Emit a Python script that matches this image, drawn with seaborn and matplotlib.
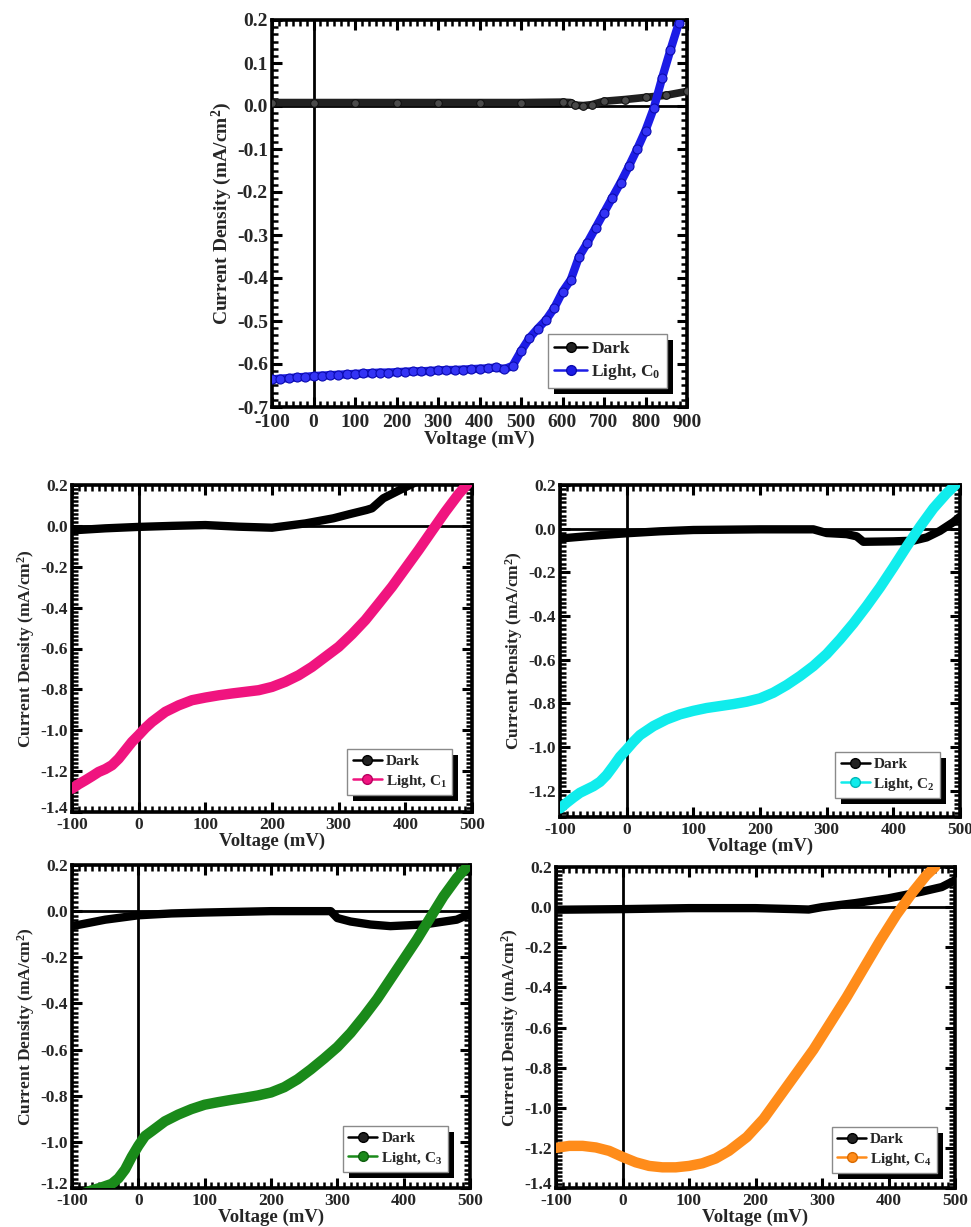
import matplotlib
matplotlib.use("Agg")
import matplotlib.pyplot as plt
import seaborn as sns
from matplotlib.lines import Line2D
from matplotlib.patches import Rectangle
from matplotlib.transforms import Affine2D
from matplotlib.ticker import MultipleLocator, AutoMinorLocator, FormatStrFormatter

sns.set_theme(style="ticks")
plt.rcParams['font.family'] = ['Liberation Serif', 'DejaVu Serif']
plt.rcParams['font.weight'] = 'bold'
plt.rcParams['axes.labelweight'] = 'bold'
plt.rcParams['mathtext.fontset'] = 'custom'
plt.rcParams['mathtext.rm'] = 'Liberation Serif:bold'
plt.rcParams['mathtext.bf'] = 'Liberation Serif:bold'
plt.rcParams['mathtext.it'] = 'Liberation Serif:bold'
plt.rcParams['axes.unicode_minus'] = False

# ---------------- data: J-V curves (voltage in mV, current density in mA/cm^2)
# C0 (top panel)
c0_dark_v = [-100, 0, 100, 200, 300, 400, 500, 600, 620, 630, 650, 670, 700, 750, 800, 850, 900]
c0_dark_j = [0.008, 0.008, 0.008, 0.008, 0.008, 0.008, 0.008, 0.009, 0.008, 0.002, 0.001, 0.003,
             0.011, 0.015, 0.020, 0.025, 0.034]
c0_light_v = [-100, -80, -60, -40, -20, 0, 20, 40, 60, 80, 100, 120, 140, 160, 180, 200, 220, 240,
              260, 280, 300, 320, 340, 360, 380, 400, 420, 440, 460, 480, 500, 520, 540, 560, 580,
              600, 620, 640, 660, 680, 700, 720, 740, 760, 780, 800, 820, 840, 860, 880]
c0_light_j = [-0.636, -0.634, -0.633, -0.631, -0.630, -0.628, -0.627, -0.626, -0.625, -0.624,
              -0.623, -0.622, -0.621, -0.620, -0.620, -0.619, -0.618, -0.617, -0.617, -0.616,
              -0.615, -0.614, -0.614, -0.613, -0.612, -0.611, -0.610, -0.608, -0.612, -0.604,
              -0.570, -0.540, -0.518, -0.498, -0.470, -0.432, -0.404, -0.350, -0.318, -0.283,
              -0.248, -0.213, -0.178, -0.140, -0.100, -0.057, -0.005, 0.065, 0.130, 0.192]

# C1
c1_dark_v = [-100, -50, 0, 50, 100, 150, 200, 250, 292, 317, 342, 350, 367, 392, 412, 430]
c1_dark_j = [-0.022, -0.012, -0.005, 0.0, 0.004, -0.004, -0.009, 0.012, 0.037, 0.058, 0.078,
             0.086, 0.135, 0.176, 0.208, 0.24]
c1_light_v = [-100, -90, -80, -70, -60, -50, -40, -30, -20, -10, 0, 10, 20, 40, 60, 80, 100,
              120, 140, 160, 180, 200, 220, 240, 260, 280, 300, 320, 340, 360, 380, 400, 420,
              440, 460, 480, 500]
c1_light_j = [-1.286, -1.264, -1.245, -1.225, -1.204, -1.190, -1.171, -1.139, -1.098, -1.057,
              -1.024, -0.989, -0.959, -0.910, -0.878, -0.853, -0.840, -0.829, -0.820, -0.812,
              -0.804, -0.788, -0.763, -0.731, -0.690, -0.641, -0.592, -0.530, -0.461, -0.380,
              -0.298, -0.208, -0.118, -0.024, 0.069, 0.156, 0.230]

# C2
c2_dark_v = [-100, -50, 0, 50, 100, 200, 280, 300, 330, 345, 355, 400, 430, 450, 470, 490, 500]
c2_dark_j = [-0.045, -0.032, -0.021, -0.012, -0.006, -0.003, -0.003, -0.020, -0.025, -0.035,
             -0.060, -0.058, -0.055, -0.040, -0.010, 0.030, 0.055]
c2_light_v = [-100, -90, -80, -70, -60, -50, -40, -30, -20, -10, 0, 10, 20, 40, 60, 80, 100,
              120, 140, 160, 180, 200, 220, 240, 260, 280, 300, 320, 340, 360, 380, 400, 420,
              440, 460, 480, 493]
c2_light_j = [-1.281, -1.255, -1.231, -1.209, -1.194, -1.179, -1.159, -1.128, -1.087, -1.044,
              -1.011, -0.976, -0.945, -0.904, -0.873, -0.850, -0.834, -0.821, -0.812, -0.803,
              -0.792, -0.777, -0.751, -0.716, -0.675, -0.629, -0.574, -0.507, -0.434, -0.354,
              -0.269, -0.177, -0.082, 0.009, 0.093, 0.162, 0.200]

# C3
c3_dark_v = [-100, -50, 0, 50, 100, 200, 290, 300, 320, 350, 380, 430, 480, 500]
c3_dark_j = [-0.065, -0.037, -0.018, -0.010, -0.006, 0.0, 0.0, -0.030, -0.045, -0.058, -0.065,
             -0.058, -0.037, -0.012]
c3_light_v = [-85, -70, -55, -40, -30, -20, -10, 0, 10, 20, 40, 60, 80, 100, 120, 140, 160,
              180, 200, 220, 240, 260, 280, 300, 320, 340, 360, 380, 400, 420, 440, 460, 480,
              498]
c3_light_j = [-1.225, -1.210, -1.197, -1.182, -1.158, -1.120, -1.065, -1.017, -0.975, -0.954,
              -0.911, -0.882, -0.858, -0.839, -0.828, -0.818, -0.809, -0.799, -0.786, -0.763,
              -0.729, -0.686, -0.639, -0.589, -0.528, -0.457, -0.381, -0.295, -0.209, -0.123,
              -0.029, 0.064, 0.143, 0.200]

# C4
c4_dark_v = [-100, 0, 100, 200, 260, 280, 300, 350, 400, 450, 480, 500]
c4_dark_j = [-0.013, -0.010, -0.005, -0.005, -0.010, -0.012, 0.0, 0.020, 0.044, 0.077, 0.10,
             0.134]
c4_light_v = [-100, -80, -60, -40, -20, 0, 20, 40, 60, 80, 100, 120, 140, 160, 187, 212, 237,
              262, 287, 312, 337, 362, 387, 412, 437, 457, 470]
c4_light_j = [-1.200, -1.190, -1.190, -1.198, -1.215, -1.245, -1.272, -1.290, -1.297, -1.297,
              -1.290, -1.277, -1.253, -1.215, -1.146, -1.056, -0.941, -0.826, -0.711, -0.580,
              -0.449, -0.309, -0.169, -0.038, 0.077, 0.159, 0.200]

y_label = "Current Density (mA/cm$^{2}$)"
x_label = "Voltage (mV)"

W, H = 971, 1227
fig = plt.figure(figsize=(W / 100, H / 100), dpi=100)
fig.patch.set_facecolor("white")


def make_axes(x0, y0, x1, y1):
    """Axes from pixel box (left, top, right, bottom)."""
    return fig.add_axes([x0 / W, 1 - y1 / H, (x1 - x0) / W, (y1 - y0) / H])


def style(ax, xlim, ylim, xmaj, xmin_n, ymin_n, tick_fs, xlabel_fs, ylabel_fs, yticks,
          labelpad_x, xpad):
    ax.set_facecolor("white")
    ax.set_xlim(*xlim)
    ax.set_ylim(*ylim)
    ax.xaxis.set_major_locator(MultipleLocator(xmaj))
    ax.set_yticks(yticks)
    ax.xaxis.set_minor_locator(AutoMinorLocator(xmin_n))
    ax.yaxis.set_minor_locator(AutoMinorLocator(ymin_n))
    ax.yaxis.set_major_formatter(FormatStrFormatter("%.1f"))
    ax.tick_params(which="both", direction="in", top=True, right=True, color="black",
                   labelsize=tick_fs)
    ax.tick_params(which="major", length=7, width=2.2)
    ax.tick_params(axis="x", which="major", pad=xpad)
    ax.tick_params(axis="y", which="major", pad=3)
    ax.tick_params(which="minor", length=4, width=1.8)
    for lab in ax.get_xticklabels() + ax.get_yticklabels():
        lab.set_fontweight("bold")
    for sp in ax.spines.values():
        sp.set_linewidth(2.6)
        sp.set_color("black")
    ax.axhline(0, color="black", lw=2.0, zorder=1)
    ax.axvline(0, color="black", lw=2.0, zorder=1)
    ax.set_xlabel(x_label, fontsize=xlabel_fs, fontweight="bold", labelpad=labelpad_x)
    ax.set_ylabel(y_label, fontsize=ylabel_fs, fontweight="bold", labelpad=2)


def add_legend(ax, light_color, light_edge, sub, anchor, fs):
    handles = [
        Line2D([0], [0], color="black", lw=1.8, marker="o", markersize=7,
               markerfacecolor="#222222", markeredgecolor="black"),
        Line2D([0], [0], color=light_color, lw=1.8, marker="o", markersize=7,
               markerfacecolor=light_color, markeredgecolor=light_edge),
    ]
    labels = ["Dark", "Light, C$_{%d}$" % sub]
    leg = ax.legend(handles, labels, loc="lower right", bbox_to_anchor=anchor,
                    borderaxespad=0, fancybox=False, framealpha=1, edgecolor="#8a8a8a",
                    fontsize=fs, handlelength=1.9, handletextpad=0.25, borderpad=0.35,
                    labelspacing=0.3)
    leg.get_frame().set_linewidth(1.0)
    leg.set_zorder(6)
    for t in leg.get_texts():
        t.set_fontweight("bold")
    return leg


legends = []
small_axes = []

# ---------------- top panel: C0
ax0 = make_axes(272, 20, 687, 407)
sns.lineplot(x=c0_dark_v, y=c0_dark_j, ax=ax0, color="#202020", lw=5.5, sort=False,
             estimator=None, marker="o", markersize=5.5, markerfacecolor="#4a4a4a",
             markeredgecolor="#111111", markeredgewidth=0.8, zorder=3)
sns.lineplot(x=c0_light_v, y=c0_light_j, ax=ax0, color="#1c1ce6", lw=6, sort=False,
             estimator=None, marker="o", markersize=6.5, markerfacecolor="#3434f5",
             markeredgecolor="#0c0cb0", markeredgewidth=0.8, zorder=4)
for ln in ax0.get_lines():
    ln.set_solid_capstyle("round")
    ln.set_solid_joinstyle("round")
style(ax0, (-100, 900), (-0.7, 0.2), 100, 6, 6, 14, 14, 14,
      [0.2, 0.1, 0.0, -0.1, -0.2, -0.3, -0.4, -0.5, -0.6, -0.7], 0, 5)
legends.append((ax0, add_legend(ax0, "#1c1ce6", "#0c0cb0", 0, (1 - 20 / 415, 19 / 387), 12.5)))

# ---------------- middle and bottom panels
panels = [
    ((72, 485, 472, 812), c1_dark_v, c1_dark_j, c1_light_v, c1_light_j, "#f0147f", "#b80060", 1,
     (-1.4, 0.2), [0.2, 0.0, -0.2, -0.4, -0.6, -0.8, -1.0, -1.2, -1.4], (0.95, 17 / 327)),
    ((560, 485, 960, 817), c2_dark_v, c2_dark_j, c2_light_v, c2_light_j, "#10ecec", "#00b8b8", 2,
     (-1.32, 0.2), [0.2, 0.0, -0.2, -0.4, -0.6, -0.8, -1.0, -1.2], (0.95, 19 / 332)),
    ((72, 865, 470, 1188), c3_dark_v, c3_dark_j, c3_light_v, c3_light_j, "#1a8a1a", "#0f5f0f", 3,
     (-1.2, 0.2), [0.2, 0.0, -0.2, -0.4, -0.6, -0.8, -1.0, -1.2], (1 - 22 / 398, 16 / 323)),
    ((556, 867, 955, 1188), c4_dark_v, c4_dark_j, c4_light_v, c4_light_j, "#ff8c1a", "#d96a00", 4,
     (-1.4, 0.2), [0.2, 0.0, -0.2, -0.4, -0.6, -0.8, -1.0, -1.2, -1.4], (1 - 18 / 399, 15 / 321)),
]

for box, dv, dj, lv, lj, col, edge, sub, ylim, yt, anchor in panels:
    ax = make_axes(*box)
    sns.lineplot(x=dv, y=dj, ax=ax, color="black", lw=6, sort=False, estimator=None,
                 zorder=3)
    sns.lineplot(x=lv, y=lj, ax=ax, color=col, lw=7.5, sort=False, estimator=None, zorder=4)
    for ln in ax.get_lines():
        ln.set_solid_capstyle("round")
        ln.set_solid_joinstyle("round")
    style(ax, (-100, 500), ylim, 100, 10, 10, 12.5, 13.5, 12.5, yt, 0, 3.5)
    legends.append((ax, add_legend(ax, col, edge, sub, anchor, 11)))
    small_axes.append((ax, ylim[0]))

fig.canvas.draw()
renderer = fig.canvas.get_renderer()

# lift the bottom-most y tick label a little so it clears the "-100" x label
for ax, ybottom in small_axes:
    for tick in ax.yaxis.get_major_ticks():
        if abs(tick.get_loc() - ybottom) < 1e-9:
            tick.label1.set_transform(tick.label1.get_transform() + Affine2D().translate(0, 5))

# solid black drop shadows behind the legend frames
for ax, leg in legends:
    bb = leg.get_window_extent(renderer)
    off = 6
    inv = ax.transAxes.inverted()
    (ax0_, ay0_), (ax1_, ay1_) = inv.transform([(bb.x0 + off, bb.y0 - off),
                                                 (bb.x1 + off, bb.y1 - off)])
    ax.add_patch(Rectangle((ax0_, ay0_), ax1_ - ax0_, ay1_ - ay0_, transform=ax.transAxes,
                           facecolor="black", edgecolor="none", zorder=5.5, clip_on=False))

fig.savefig("out.png", dpi=100, facecolor="white")
